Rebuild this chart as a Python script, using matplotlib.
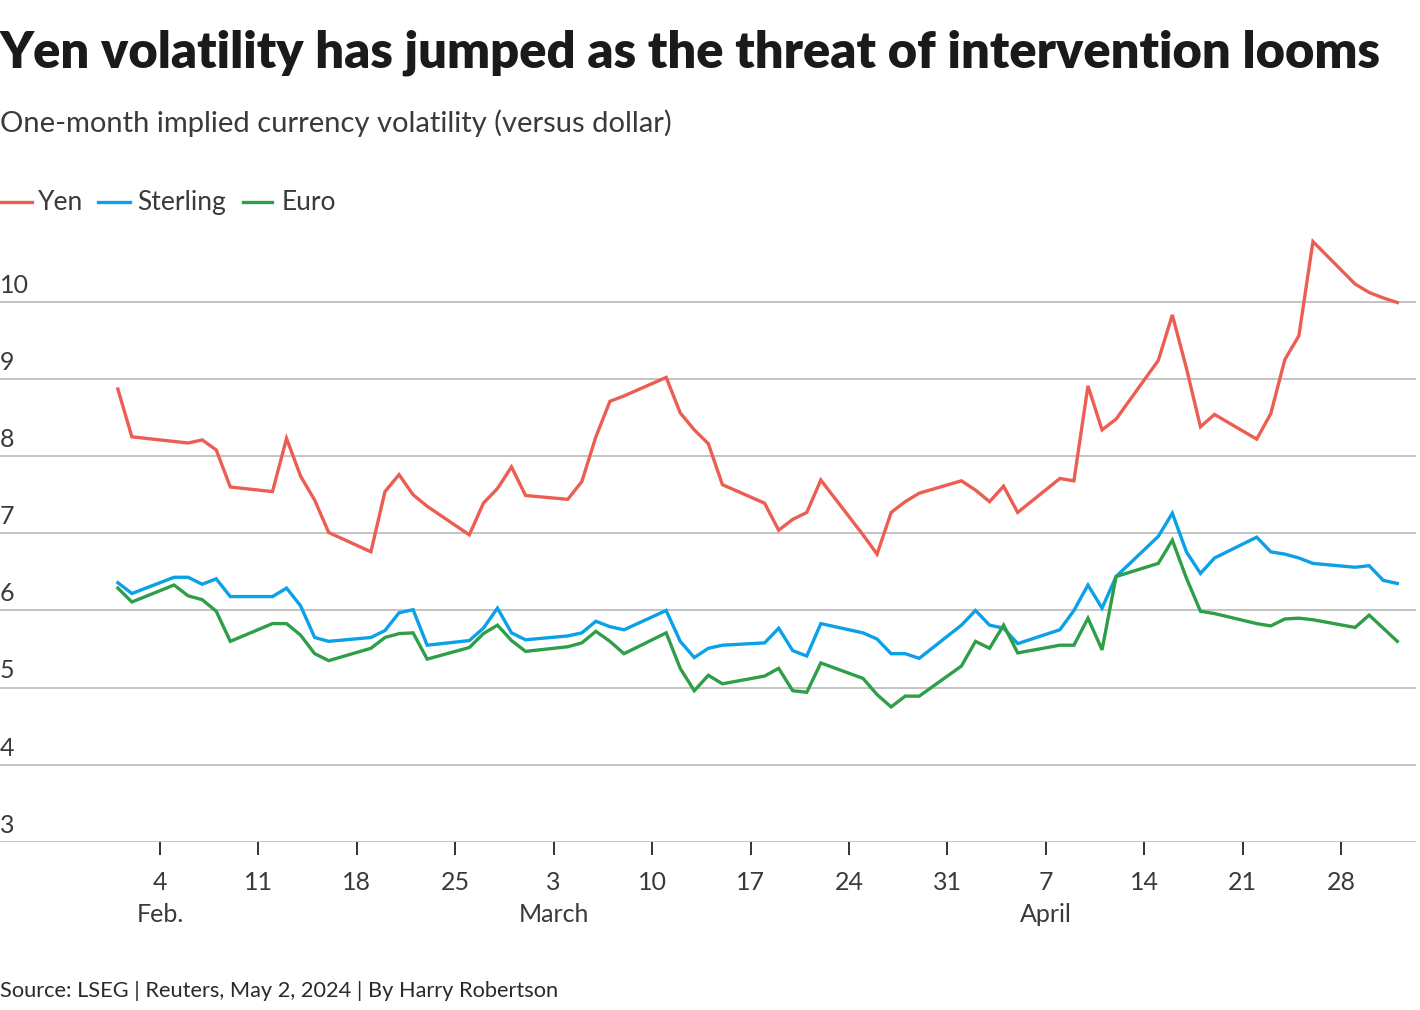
import matplotlib
matplotlib.use('Agg')
import matplotlib.pyplot as plt
import matplotlib.dates as mdates
import matplotlib.transforms as mtransforms
from matplotlib.lines import Line2D
import pandas as pd

plt.rcParams['font.family'] = ['Lato', 'DejaVu Sans']

# trading days, Feb 1 - May 2 2024
dates = pd.bdate_range('2024-02-01', '2024-05-02')

yen = [8.87, 8.25, 8.19, 8.17, 8.21, 8.08, 7.60, 7.54, 8.23, 7.74, 7.43, 7.01, 6.76, 7.54, 7.76, 7.50, 7.35, 6.98, 7.39, 7.58, 7.86,
       7.49, 7.44, 7.67, 8.25, 8.71, 8.78, 9.02, 8.56, 8.34, 8.16, 7.63, 7.39, 7.04, 7.18, 7.27, 7.69, 6.98, 6.73, 7.27, 7.41, 7.52,
       7.68, 7.56, 7.41, 7.61, 7.27, 7.71, 7.68, 8.91, 8.34, 8.48, 9.24, 9.83, 9.14, 8.38, 8.54, 8.22, 8.55, 9.25, 9.56, 10.78, 10.23, 10.12,
       10.05, 9.99]
sterling = [6.36, 6.22, 6.43, 6.43, 6.34, 6.41, 6.18, 6.18, 6.29, 6.06, 5.65, 5.60, 5.65, 5.74, 5.97, 6.01, 5.55, 5.61, 5.77, 6.03, 5.71,
            5.62, 5.67, 5.71, 5.86, 5.79, 5.75, 6.00, 5.60, 5.39, 5.51, 5.55, 5.58, 5.77, 5.48, 5.41, 5.83, 5.71, 5.63, 5.44, 5.44, 5.38,
            5.81, 6.00, 5.81, 5.77, 5.57, 5.75, 6.00, 6.33, 6.03, 6.44, 6.96, 7.26, 6.76, 6.48, 6.68, 6.95, 6.76, 6.73, 6.68, 6.61, 6.56, 6.58,
            6.39, 6.35]
euro = [6.29, 6.11, 6.33, 6.19, 6.14, 5.99, 5.60, 5.83, 5.83, 5.68, 5.44, 5.35, 5.51, 5.65, 5.70, 5.71, 5.37, 5.52, 5.70, 5.81, 5.61,
        5.47, 5.53, 5.58, 5.73, 5.60, 5.44, 5.71, 5.25, 4.96, 5.16, 5.05, 5.15, 5.25, 4.96, 4.94, 5.32, 5.12, 4.91, 4.75, 4.89, 4.89,
        5.28, 5.60, 5.51, 5.81, 5.45, 5.55, 5.55, 5.90, 5.49, 6.44, 6.61, 6.91, 6.42, 5.99, 5.96, 5.83, 5.80, 5.89, 5.90, 5.88, 5.78, 5.94,
        5.77, 5.60]

series = ['Yen', 'Sterling', 'Euro']
colors = ['#ec5d52', '#0aa1e8', '#2f9e48']

tick_dates = pd.to_datetime(['2024-02-04', '2024-02-11', '2024-02-18', '2024-02-25', '2024-03-03', '2024-03-10',
                             '2024-03-17', '2024-03-24', '2024-03-31', '2024-04-07', '2024-04-14', '2024-04-21',
                             '2024-04-28'])
tick_labels = ['4\nFeb.', '11', '18', '25', '3\nMarch', '10', '17', '24', '31', '7\nApril', '14', '21', '28']
y_ticks = [3, 4, 5, 6, 7, 8, 9, 10]

fig = plt.figure(figsize=(14.2, 10.1), dpi=100)
ax = fig.add_axes([0, 168 / 1010, 1416 / 1420, 612 / 1010])

for name, vals, c in zip(series, [yen, sterling, euro], colors):
    ax.plot(dates, vals, color=c, linewidth=2.4, solid_joinstyle='miter', zorder=3)

x0 = pd.Timestamp('2024-02-04')
ax.set_xlim(mdates.date2num(x0) - 11.38, mdates.date2num(x0) + 89.33)
ax.set_ylim(3, 10.93)

ax.set_yticks(y_ticks)
ax.yaxis.grid(True, color='#b3b3b3', linewidth=1.1)
ax.tick_params(axis='y', length=0, labelleft=False)
trans = mtransforms.blended_transform_factory(ax.transAxes, ax.transData)
for v in y_ticks:
    ax.text(0.0, v + 0.12, str(v), transform=trans, ha='left', va='baseline',
            fontsize=18, color='#3a3a3a')

ax.set_xticks(tick_dates)
ax.set_xticklabels(tick_labels, fontsize=18, color='#3a3a3a', linespacing=1.45)
ax.tick_params(axis='x', length=9, width=1.4, color='#333333', pad=12)
for s in ax.spines.values():
    s.set_visible(False)

fig.text(0, 1 - 67 / 1010, 'Yen volatility has jumped as the threat of intervention looms',
         fontsize=36.5, fontweight='heavy', color='#1a1a1a', va='baseline')
fig.text(0, 1 - 132 / 1010, 'One-month implied currency volatility (versus dollar)',
         fontsize=21, color='#3a3a3a', va='baseline')

# legend
leg_x = [(0, 32, 38), (98, 130, 137), (243, 272, 282)]
for (a, b, t), name, c in zip(leg_x, series, colors):
    fig.add_artist(Line2D([a / 1420, b / 1420], [1 - 202 / 1010] * 2, color=c, linewidth=2.4))
    fig.text(t / 1420, 1 - 210 / 1010, name, fontsize=19, color='#3a3a3a', va='baseline')

fig.text(0, 1 - 997 / 1010, 'Source: LSEG | Reuters, May 2, 2024 | By Harry Robertson',
         fontsize=15.7, color='#2a2a2a', va='baseline')

plt.savefig('out.png', dpi=100)
plt.close()
